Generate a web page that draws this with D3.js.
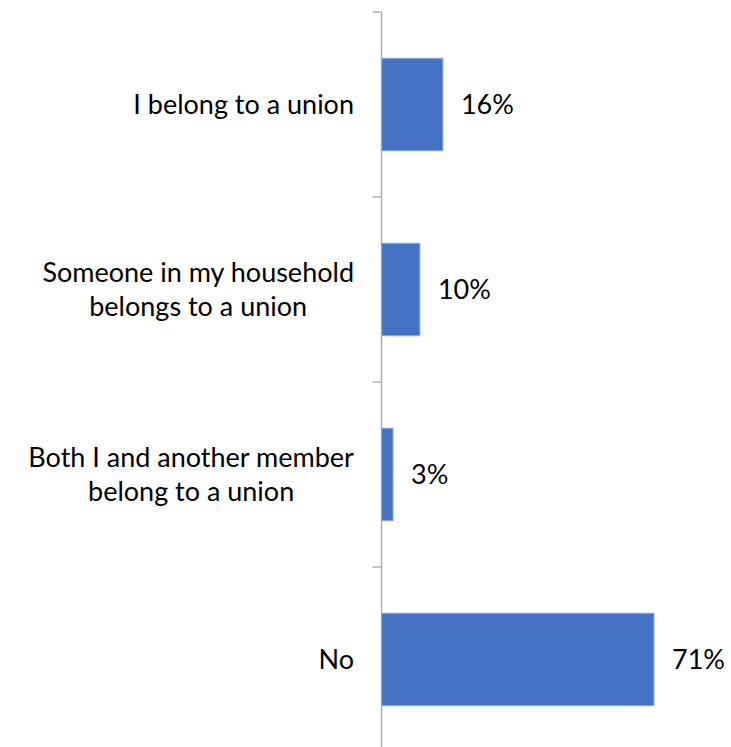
<!DOCTYPE html>
<html>
<head>
<meta charset="utf-8">
<script src="https://cdn.jsdelivr.net/npm/d3@7"></script>
<style>
  html, body { margin: 0; padding: 0; background: #fff; }
  svg { display: block; }
  text { font-family: Lato, "Open Sans", sans-serif; fill: #000; }
</style>
</head>
<body>
<svg id="chart" width="731" height="747"></svg>
<script>
const categories = [
  ["I belong to a union"],
  ["Someone in my household", "belongs to a union"],
  ["Both I and another member", "belong to a union"],
  ["No"]
];
const values = [16, 10, 3, 71];
const valueLabels = ["16%", "10%", "3%", "71%"];

const W = 731, H = 747;
const axisX = 381.5;
const svg = d3.select("#chart");

const ids = categories.map((c, i) => i);
const y = d3.scaleBand().domain(ids).range([12, 752]).paddingInner(0.5).paddingOuter(0.25);
const x = d3.scaleLinear().domain([0, 71]).range([axisX, 654]);

// bars
svg.selectAll("rect.bar").data(values).join("rect")
  .attr("class", "bar")
  .attr("x", x(0))
  .attr("y", (d, i) => y(i))
  .attr("width", d => x(d) - x(0))
  .attr("height", y.bandwidth())
  .attr("fill", "#4472C4")
  .attr("stroke", "#8FAADC")
  .attr("stroke-width", 1);

// axis line and ticks
const band = y.step();
const tickYs = d3.range(categories.length + 1).map(i => 12 + i * band);
svg.append("line")
  .attr("x1", axisX).attr("x2", axisX)
  .attr("y1", 12).attr("y2", H)
  .attr("stroke", "#A6A6A6").attr("stroke-width", 1.3);
svg.selectAll("line.tick").data(tickYs).join("line")
  .attr("class", "tick")
  .attr("x1", axisX - 9).attr("x2", axisX)
  .attr("y1", d => d).attr("y2", d => d)
  .attr("stroke", "#A6A6A6").attr("stroke-width", 1.3);

// category labels
const lineH = 34;
const fs = 27;
const labelG = svg.selectAll("g.lab").data(categories).join("g").attr("class", "lab");
labelG.each(function(lines, i) {
  const g = d3.select(this);
  const cy = y(i) + y.bandwidth() / 2;
  const t = g.append("text").attr("font-size", fs).attr("text-anchor", "middle");
  lines.forEach((l, j) => {
    t.append("tspan").text(l)
      .attr("x", 0)
      .attr("y", cy + (j - (lines.length - 1) / 2) * lineH)
      .attr("dy", "0.35em");
  });
  // right align the block at x = 354
  const w = t.node().getBBox().width;
  t.selectAll("tspan").attr("x", 354 - w / 2);
});

// value labels
svg.selectAll("text.val").data(values).join("text")
  .attr("class", "val")
  .attr("x", d => x(d) + 18)
  .attr("y", (d, i) => y(i) + y.bandwidth() / 2)
  .attr("dy", "0.35em")
  .attr("font-size", fs)
  .text((d, i) => valueLabels[i]);
</script>
</body>
</html>
